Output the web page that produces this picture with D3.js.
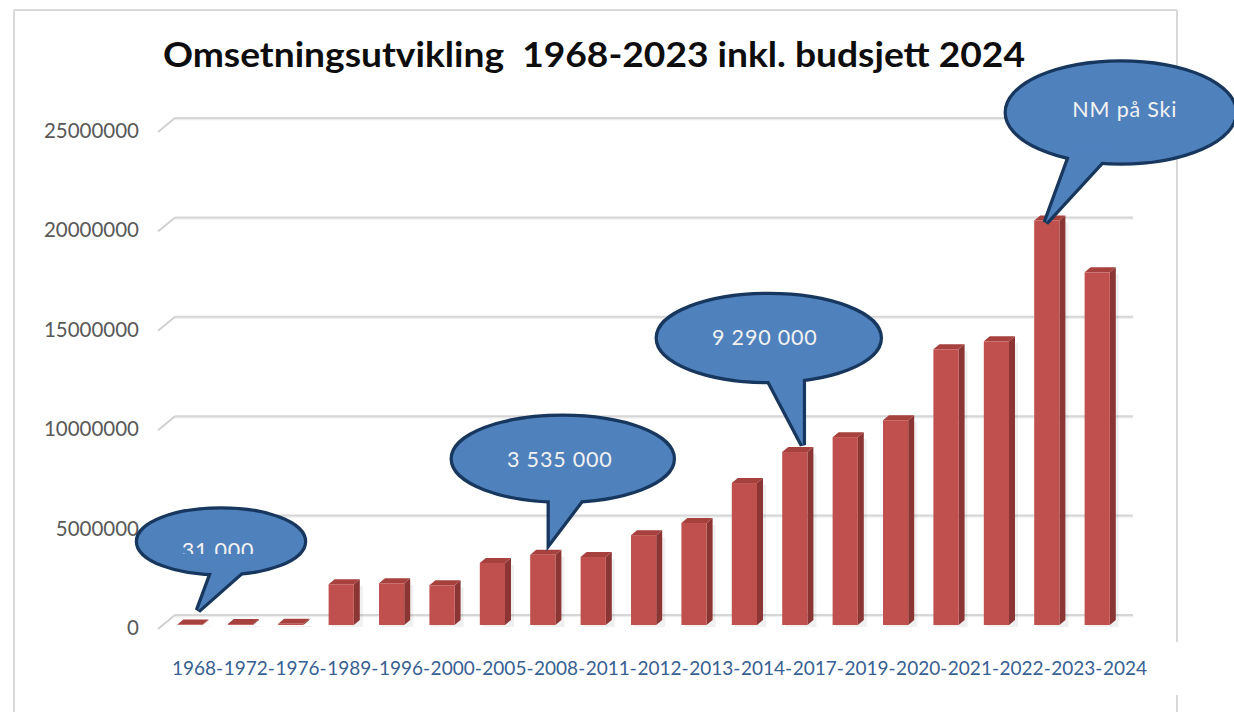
<!DOCTYPE html>
<html>
<head>
<meta charset="utf-8">
<script src="https://cdn.jsdelivr.net/npm/d3@7"></script>
<style>
  html, body { margin: 0; padding: 0; background: #ffffff; }
  svg { display: block; }
</style>
</head>
<body>
<svg id="chart" width="1234" height="712"></svg>
<script>
// ---- data ----
const title = "Omsetningsutvikling  1968-2023 inkl. budsjett 2024";
const categories = ["1968","1972","1976","1989","1996","2000","2005","2008","2011","2012","2013","2014","2017","2019","2020","2021","2022","2023","2024"];
const revenue = [31000, 45000, 60000, 2050000, 2100000, 2000000, 3120000, 3535000, 3420000, 4520000, 5130000, 7140000, 8700000, 9450000, 10300000, 13870000, 14270000, 20350000, 17740000];
const yTicks = [0, 5000000, 10000000, 15000000, 20000000, 25000000];
const yTickLabels = ["0", "5000000", "10000000", "15000000", "20000000", "25000000"];
const calloutLabels = ["31 000", "3 535 000", "9 290 000", "NM på Ski"];
const calloutCategories = ["1968", "2008", "2017", "2023"];

// ---- layout ----
const svg = d3.select("#chart");
const W = 1234, H = 712;

// outer frame
const frame = svg.append("g");
frame.append("line").attr("x1", 14).attr("y1", 10).attr("x2", 1177).attr("y2", 10)
  .attr("stroke", "#d9d9d9").attr("stroke-width", 2);
frame.append("line").attr("x1", 14).attr("y1", 10).attr("x2", 14).attr("y2", H)
  .attr("stroke", "#d9d9d9").attr("stroke-width", 2);
frame.append("line").attr("x1", 1177).attr("y1", 10).attr("x2", 1177).attr("y2", 642)
  .attr("stroke", "#d9d9d9").attr("stroke-width", 2);
frame.append("line").attr("x1", 1177).attr("y1", 695).attr("x2", 1177).attr("y2", H)
  .attr("stroke", "#d9d9d9").attr("stroke-width", 2);

// title
svg.append("text")
  .attr("x", 163).attr("y", 67)
  .attr("font-family", "Lato, 'Open Sans', sans-serif")
  .attr("font-weight", "bold")
  .attr("font-size", 35)
  .attr("fill", "#0d0d0d")
  .attr("textLength", 862)
  .attr("lengthAdjust", "spacingAndGlyphs")
  .style("white-space", "pre")
  .text(title);

// scales
const x = d3.scaleBand().domain(categories).range([164.8, 1122.4]).paddingInner(0.5).paddingOuter(0.25);
const y = d3.scaleLinear().domain([0, 25000000]).range([625, 128]);
const depthY = -10;              // back wall offset (gridlines)
const barDX = 6, barDY = -5;     // bar side/top depth

// gridlines (3D back wall with left stub)
const grid = svg.append("g");
yTicks.forEach((v, i) => {
  const yb = y(v) + depthY;
  grid.append("line")
    .attr("x1", 175).attr("x2", 1133).attr("y1", yb + 1.5).attr("y2", yb + 1.5)
    .attr("stroke", "#eeeeee").attr("stroke-width", 1.5);
  grid.append("line")
    .attr("x1", 175).attr("x2", 1133).attr("y1", yb).attr("y2", yb)
    .attr("stroke", "#d6d6d6").attr("stroke-width", 2);
  grid.append("line")
    .attr("x1", 158).attr("y1", yb + 14).attr("x2", 175).attr("y2", yb)
    .attr("stroke", "#d0d0d0").attr("stroke-width", 2);
  svg.append("text")
    .attr("x", 139).attr("y", y(v) + 10)
    .attr("text-anchor", "end")
    .attr("font-family", "Lato, 'Open Sans', sans-serif")
    .attr("font-size", 20.5)
    .attr("fill", "#595959")
    .text(yTickLabels[i]);
});

// bars
const bars = svg.append("g").selectAll("g.bar")
  .data(categories.map((c, i) => ({ cat: c, value: revenue[i] })))
  .join("g").attr("class", "bar");

bars.each(function(d) {
  const g = d3.select(this);
  const x0 = x(d.cat), bw = x.bandwidth();
  const yt = y(d.value), yb = y(0);
  g.append("rect")
    .attr("x", x0 + 3).attr("y", yt + 2)
    .attr("width", bw + barDX).attr("height", Math.max(0, yb - yt))
    .attr("fill", "#000").attr("opacity", 0.06);
  g.append("path")
    .attr("d", `M${x0 + bw},${yt} L${x0 + bw + barDX},${yt + barDY} L${x0 + bw + barDX},${yb + barDY} L${x0 + bw},${yb} Z`)
    .attr("fill", "#8b3634");
  g.append("path")
    .attr("d", `M${x0},${yt} L${x0 + barDX},${yt + barDY} L${x0 + bw + barDX},${yt + barDY} L${x0 + bw},${yt} Z`)
    .attr("fill", "#a6413e");
  g.append("rect")
    .attr("x", x0).attr("y", yt)
    .attr("width", bw).attr("height", Math.max(0, yb - yt))
    .attr("fill", "#c0504d");
});

// x labels
const xl = d3.scalePoint().domain(categories).range([172, 1103]);
svg.append("g").selectAll("text")
  .data(categories)
  .join("text")
  .attr("x", d => xl(d))
  .attr("y", 675)
  .attr("font-family", "Lato, 'Open Sans', sans-serif")
  .attr("font-size", 19)
  .attr("fill", "#376092")
  .text((d, i) => i < categories.length - 1 ? d + "-" : d);

// callouts
const calloutLayout = [
  { tip: [8, -14], c: [23, -69], rx: 83, ry: 32, base: [-6, 29], text: [-3, 17], clip: 554 },
  { tip: [7, -13], c: [13, -83], rx: 110, ry: 42, base: [-13, 27], text: [-3, 8] },
  { tip: [8, -7], c: [-34, -107], rx: 111, ry: 43, base: [-6, 34], text: [-4, 7] },
  { tip: [-1, 2], c: [75, -110], rx: 114, ry: 50, base: [-48, -7], text: [4, 5] }
];

const defs = svg.append("defs");
const callG = svg.append("g");
calloutLabels.forEach((label, i) => {
  const L = calloutLayout[i];
  const cat = calloutCategories[i];
  const idx = categories.indexOf(cat);
  const bx = x(cat) + x.bandwidth() / 2;
  const by = y(revenue[idx]);
  const tx = bx + L.tip[0], ty = by + L.tip[1];
  const cx = tx + L.c[0], cy = ty + L.c[1];
  const b1x = cx + L.base[0], b2x = cx + L.base[1];
  const baseY = cy + L.ry * 0.72;
  const tailPts = `${b1x},${baseY} ${b2x},${baseY} ${tx},${ty}`;
  const g = callG.append("g");
  g.append("ellipse").attr("cx", cx).attr("cy", cy).attr("rx", L.rx).attr("ry", L.ry)
    .attr("fill", "#4f81bd").attr("stroke", "#17375e").attr("stroke-width", 6.5);
  g.append("polygon").attr("points", tailPts)
    .attr("fill", "#4f81bd").attr("stroke", "#17375e").attr("stroke-width", 6.5)
    .attr("stroke-linejoin", "miter");
  g.append("ellipse").attr("cx", cx).attr("cy", cy).attr("rx", L.rx).attr("ry", L.ry)
    .attr("fill", "#4f81bd");
  g.append("polygon").attr("points", tailPts).attr("fill", "#4f81bd");
  const t = g.append("text")
    .attr("x", cx + L.text[0]).attr("y", cy + L.text[1])
    .attr("text-anchor", "middle")
    .attr("font-family", "Lato, 'Open Sans', sans-serif")
    .attr("font-size", 21.5)
    .attr("letter-spacing", 0.8)
    .attr("fill", "#f2f2f2")
    .text(label);
  if (L.clip) {
    const id = "clip" + i;
    defs.append("clipPath").attr("id", id)
      .append("rect").attr("x", cx - L.rx).attr("y", cy - L.ry).attr("width", 2 * L.rx).attr("height", L.clip - (cy - L.ry));
    t.attr("clip-path", `url(#${id})`);
  }
});
</script>
</body>
</html>
